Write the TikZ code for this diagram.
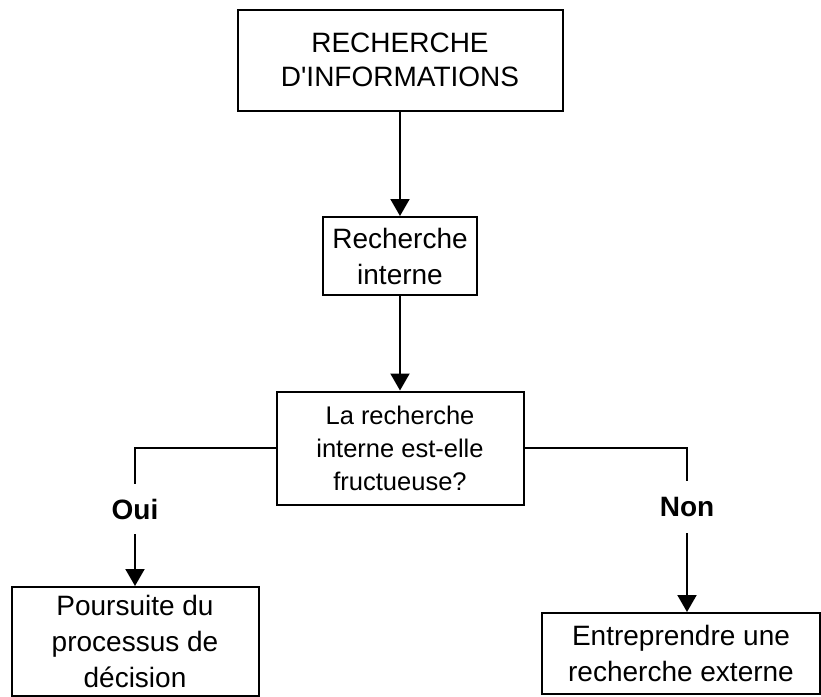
\documentclass[tikz,border=0pt]{standalone}
\usepackage{fontspec}
\setmainfont{Liberation Sans}
\usetikzlibrary{ % tikz packages
    arrows.meta,positioning
}
\tikzset{every node/.style={
    align=center,
    inner sep=0pt
}}
\tikzset{box/.style={
    draw,
    line width=1pt,
    font=\fontsize{14}{18}\selectfont
}}
\tikzset{answer/.style={
    font=\fontsize{14}{18}\selectfont\bfseries,
    minimum height=24pt
}}
\tikzset{>={Triangle[width=9.5pt,length=8.5pt]}}

\begin{document}
\begin{tikzpicture}[x=0.5pt,y=-0.5pt,line width=1pt]
            \useasboundingbox (0,0) rectangle (821,697);
            \node[box, minimum width=162.5pt, minimum height=50.5pt,
                font=\fontsize{14}{17}\selectfont] (info) at (400,60) {RECHERCHE\\D\textquotesingle INFORMATIONS};
            \node[box, minimum width=77pt, minimum height=39pt] (interne) at (400,256) {Recherche\\interne};
            \node[box, minimum width=123.5pt, minimum height=56.5pt,
                font=\fontsize{12.75}{16.5}\selectfont] (question) at (400,448) {La recherche\\interne est-elle\\fructueuse?};
            \node[answer] (oui) at (135,509) {Oui};
            \node[answer, minimum height=25pt] (non) at (687,507) {Non};
            \node[box, minimum width=123.5pt, minimum height=54.5pt] (suite) at (135,641.5) {Poursuite du\\processus de\\décision};
            \node[box, minimum width=139pt, minimum height=40.5pt] (externe) at (681,653.5) {Entreprendre une\\recherche externe};

            \path[->]
                (info)
                    edge (interne)
                (interne)
                    edge (question);
            \draw (question.west) -| (oui.north);
            \draw (question.east) -| (non.north);
            \draw[->] (oui.south) -- (suite.north);
            \draw[->] (non.south) -- (non.south |- externe.north);
        \end{tikzpicture}
\end{document}
